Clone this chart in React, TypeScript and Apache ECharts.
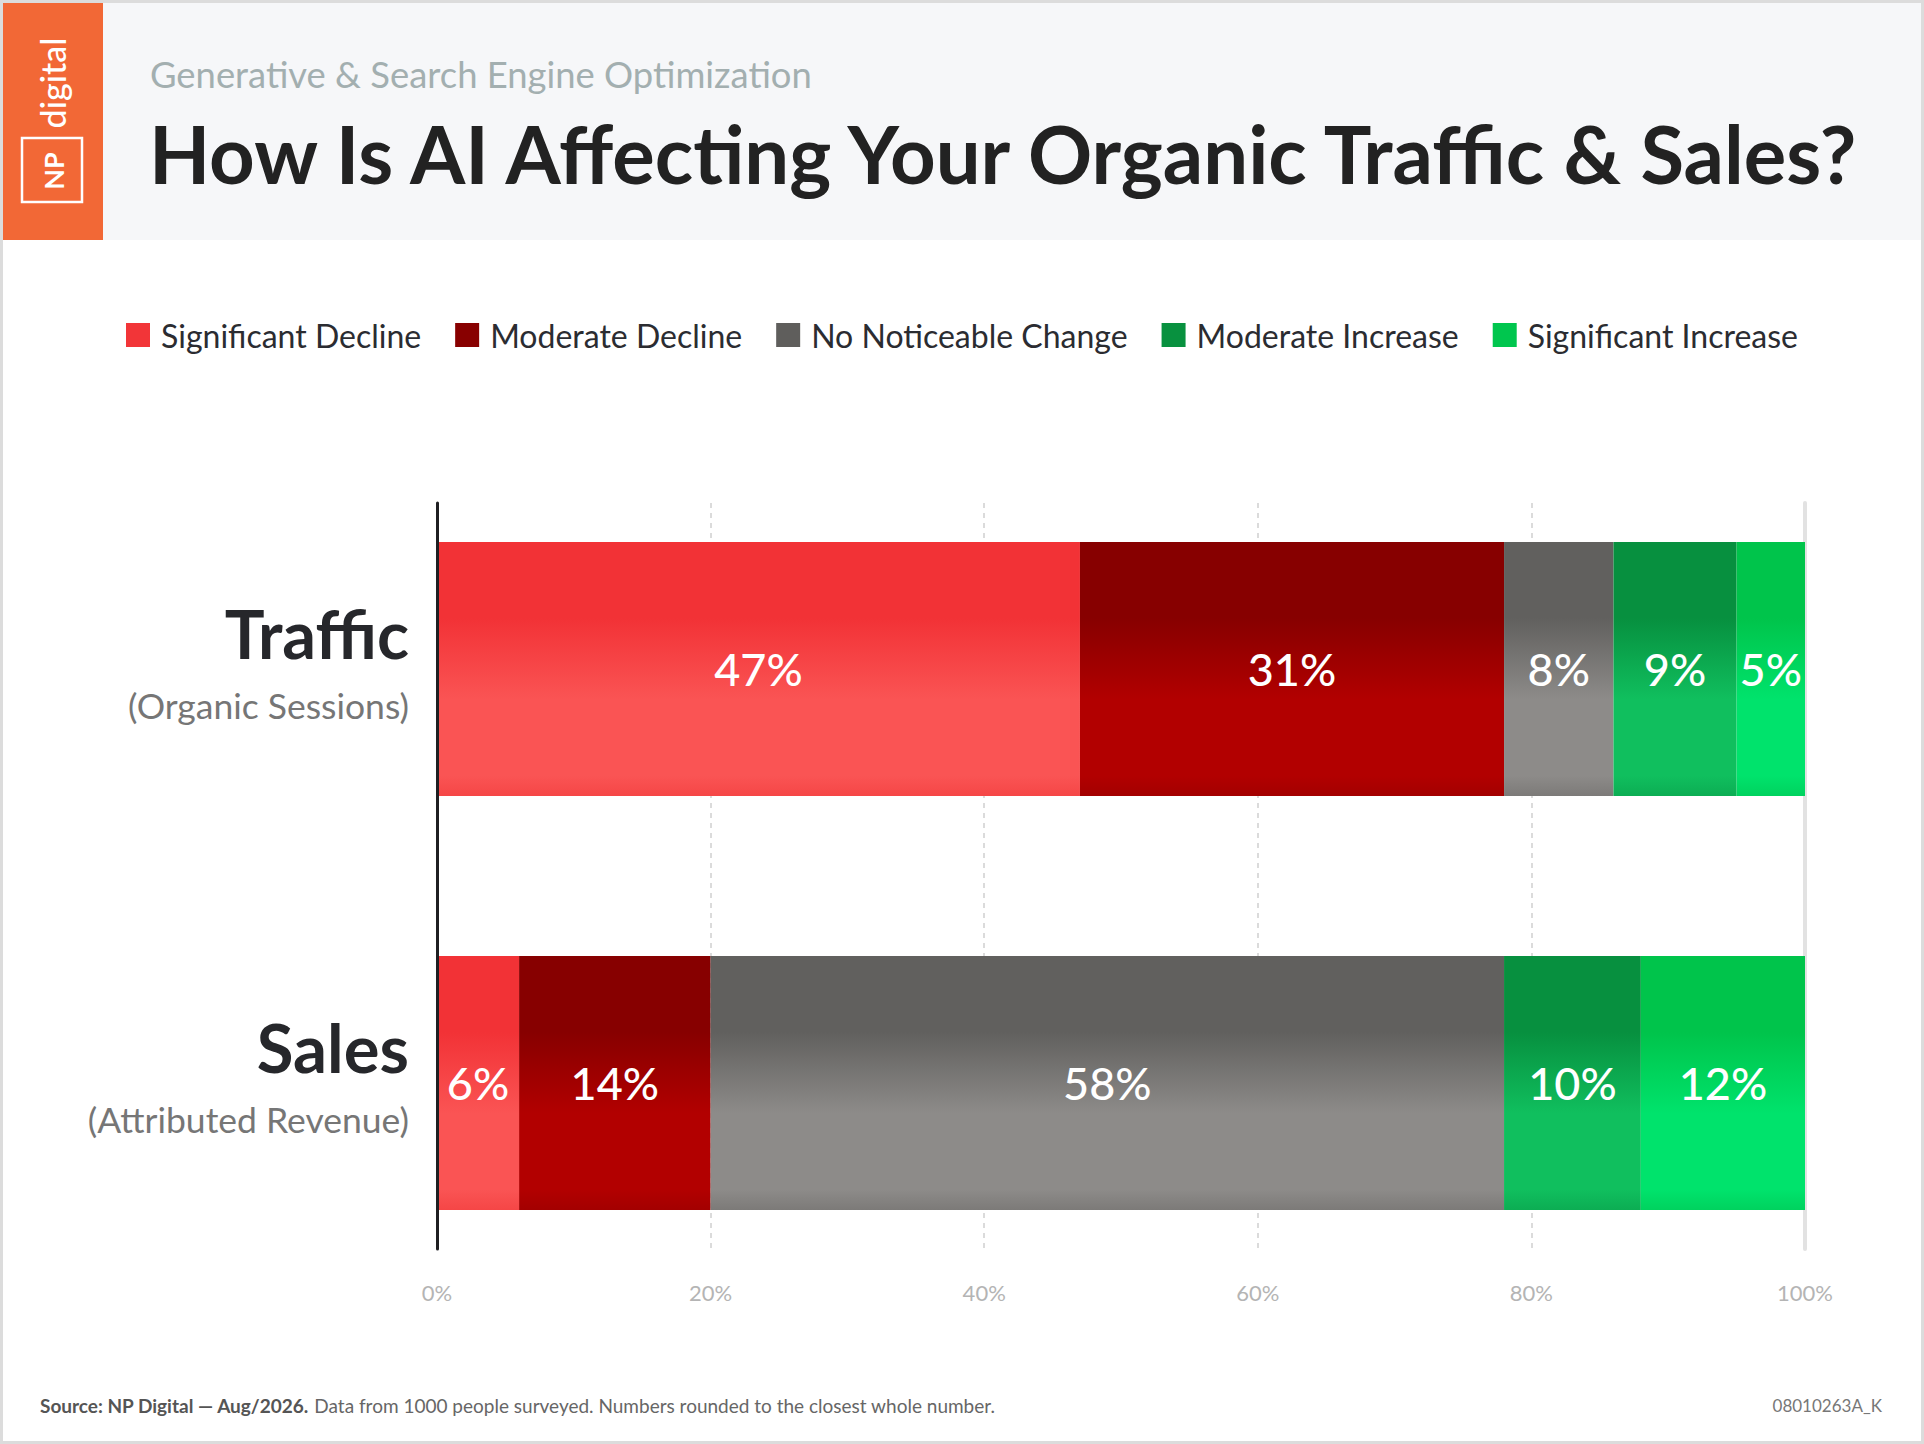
import React, { useEffect, useRef } from "react";
import * as echarts from "echarts";

const categories = ["Traffic", "Sales"];
const subLabels = ["(Organic Sessions)", "(Attributed Revenue)"];
const seriesNames = [
  "Significant Decline",
  "Moderate Decline",
  "No Noticeable Change",
  "Moderate Increase",
  "Significant Increase",
];
const trafficValues = [47, 31, 8, 9, 5];
const salesValues = [6, 14, 58, 10, 12];
const axisTicks = [0, 20, 40, 60, 80, 100];

const flatColors = ["#f23538", "#880000", "#5f5e5c", "#08913f", "#00c64e"];
const topColors = ["#f23236", "#870000", "#61605e", "#07903f", "#00c44b"];
const bottomColors = ["#fa5454", "#b20000", "#8d8b89", "#10bf5e", "#00e36c"];
const edgeColors = ["#f54646", "#a30000", "#7c7a78", "#0cad53", "#00d25e"];

const FONT = "Lato, 'Noto Sans', sans-serif";

export default function App() {
  const ref = useRef<HTMLDivElement>(null);

  useEffect(() => {
    document.body.style.margin = "0";
    if (!ref.current) return;
    const chart = echarts.init(ref.current, undefined, { renderer: "svg" });

    const series = seriesNames.map((name, i) => ({
      name,
      type: "bar",
      stack: "total",
      xAxisIndex: 1,
      yAxisIndex: 2,
      barWidth: 254,
      itemStyle: {
        color: new echarts.graphic.LinearGradient(0, 0, 0, 1, [
          { offset: 0, color: topColors[i] },
          { offset: 0.3, color: topColors[i] },
          { offset: 0.62, color: bottomColors[i] },
          { offset: 0.92, color: bottomColors[i] },
          { offset: 1, color: edgeColors[i] },
        ]),
      },
      label: {
        show: true,
        position: "inside",
        formatter: "{c}%",
        color: "#ffffff",
        fontSize: 45,
        fontWeight: 500,
        fontFamily: FONT,
      },
      emphasis: { disabled: true },
      data: [trafficValues[i], salesValues[i]],
    }));

    chart.setOption({
      animation: false,
      backgroundColor: "#ffffff",
      legend: {
        left: "center",
        top: 314,
        icon: "rect",
        itemWidth: 24,
        itemHeight: 24,
        itemGap: 34,
        selectedMode: false,
        textStyle: {
          fontSize: 32,
          color: "#2b2c31",
          fontFamily: FONT,
          padding: [0, 0, 0, 6],
        },
        data: seriesNames.map((n, i) => ({ name: n, itemStyle: { color: flatColors[i] } })),
      },
      grid: [
        { left: 437, right: 119, top: 503, height: 746 },
        { left: 437, right: 119, top: 462, height: 828 },
      ],
      xAxis: [
        {
          gridIndex: 0,
          type: "value",
          min: axisTicks[0],
          max: axisTicks[axisTicks.length - 1],
          interval: axisTicks[1] - axisTicks[0],
          axisLine: { show: false },
          axisTick: { show: false },
          axisLabel: {
            formatter: "{value}%",
            color: "#b4b4b4",
            fontSize: 22,
            fontFamily: FONT,
            margin: 32,
          },
          splitLine: {
            show: true,
            lineStyle: { color: "#d0d0d0", width: 1.5, type: [5, 5] },
          },
        },
        {
          gridIndex: 1,
          type: "value",
          min: 0,
          max: 100,
          show: false,
        },
      ],
      yAxis: [
        {
          gridIndex: 0,
          type: "category",
          data: [""],
          axisLine: { show: true, lineStyle: { color: "#1f1f22", width: 3 } },
          axisTick: { show: false },
          axisLabel: { show: false },
          splitLine: { show: false },
          z: 5,
        },
        {
          gridIndex: 0,
          type: "category",
          position: "right",
          data: [""],
          axisLine: { show: true, lineStyle: { color: "#e2e2e2", width: 4 } },
          axisTick: { show: false },
          axisLabel: { show: false },
          splitLine: { show: false },
        },
        {
          gridIndex: 1,
          type: "category",
          inverse: true,
          data: categories,
          axisLine: { show: false },
          axisTick: { show: false },
          splitLine: { show: false },
          axisLabel: {
            margin: 28,
            formatter: (v: string, idx: number) =>
              `{${idx === 0 ? "t" : "u"}|${v}}\n{s|${subLabels[idx]}}`,
            rich: {
              t: {
                fontSize: 66.5,
                fontWeight: "bold",
                color: "#26272b",
                lineHeight: 72,
                fontFamily: FONT,
                align: "right",
              },
              u: {
                fontSize: 67,
                fontWeight: "bold",
                color: "#26272b",
                lineHeight: 72,
                fontFamily: FONT,
                align: "right",
              },
              s: {
                fontSize: 35.5,
                color: "#767676",
                lineHeight: 72,
                fontFamily: FONT,
                align: "right",
              },
            },
          },
        },
      ],
      series,
      graphic: [
        {
          type: "rect",
          z: -10,
          shape: { x: 1.5, y: 1.5, width: 1921, height: 1441 },
          style: { fill: "#ffffff", stroke: "#dcdcdc", lineWidth: 3 },
        },
        {
          type: "rect",
          z: -5,
          shape: { x: 3, y: 3, width: 1918, height: 237 },
          style: { fill: "#f6f7f9" },
        },
        {
          type: "rect",
          shape: { x: 3, y: 3, width: 100, height: 237 },
          style: { fill: "#f26836" },
        },
        {
          type: "text",
          x: 52,
          y: 83,
          rotation: Math.PI / 2,
          style: {
            text: "digital",
            fontSize: 34,
            fontWeight: 500,
            fontFamily: FONT,
            fill: "#ffffff",
            align: "center",
            verticalAlign: "middle",
          },
        },
        {
          type: "rect",
          shape: { x: 22, y: 138, width: 60, height: 64 },
          style: { fill: "none", stroke: "#ffffff", lineWidth: 2.5 },
        },
        {
          type: "text",
          x: 53,
          y: 171,
          rotation: Math.PI / 2,
          style: {
            text: "NP",
            fontSize: 27,
            fontWeight: "bold",
            fontFamily: FONT,
            fill: "#ffffff",
            align: "center",
            verticalAlign: "middle",
          },
        },
        {
          type: "text",
          x: 150,
          y: 74,
          style: {
            text: "Generative & Search Engine Optimization",
            fontSize: 36.4,
            fontFamily: FONT,
            fill: "#a3afb0",
            verticalAlign: "middle",
          },
        },
        {
          type: "text",
          x: 149,
          y: 153,
          style: {
            text: "How Is AI Affecting Your Organic Traffic & Sales?",
            fontSize: 79.6,
            fontWeight: "bold",
            fontFamily: FONT,
            fill: "#222222",
            verticalAlign: "middle",
          },
        },
        {
          type: "text",
          x: 40,
          y: 1405,
          style: {
            text:
              "{b|Source: NP Digital — Aug/2026.}{r| Data from 1000 people surveyed. Numbers rounded to the closest whole number.}",
            verticalAlign: "middle",
            rich: {
              b: { fontSize: 19, fontWeight: "bold", fill: "#555555", fontFamily: FONT },
              r: { fontSize: 19, fill: "#666666", fontFamily: FONT },
            },
          },
        },
        {
          type: "text",
          x: 1882,
          y: 1405,
          style: {
            text: "08010263A_K",
            fontSize: 17,
            fontFamily: FONT,
            fill: "#777777",
            align: "right",
            verticalAlign: "middle",
          },
        },
      ],
    });

    return () => chart.dispose();
  }, []);

  return <div ref={ref} style={{ width: 1924, height: 1444 }} />;
}
